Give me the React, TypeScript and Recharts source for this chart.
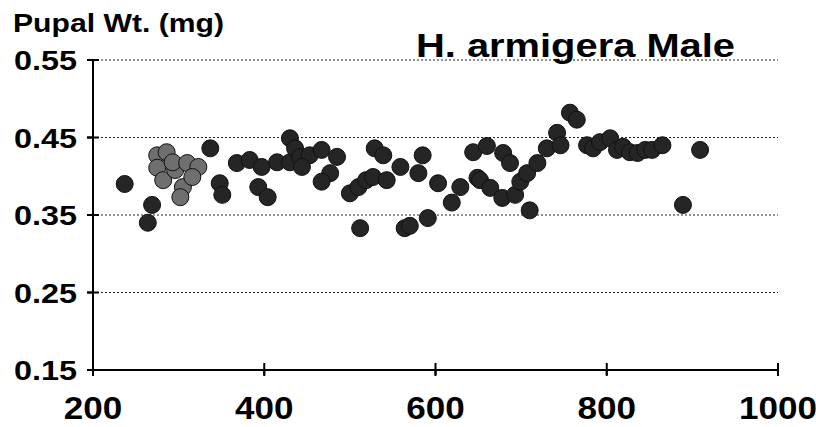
import React from "react";
import { CartesianGrid, Scatter, ScatterChart, XAxis, YAxis } from "recharts";

// light grey clump at the left end
const lightX = [275, 286, 275, 282, 296, 293, 310, 323, 305, 302, 316];
const lightY = [0.427, 0.431, 0.411, 0.395, 0.408, 0.418, 0.417, 0.412, 0.386, 0.373, 0.399];

// everything else
const darkX = [
  237, 264, 269, 337, 348, 351, 393, 404,
  368, 383, 397, 415, 430, 430, 436, 442, 453, 467, 444, 485, 477, 467,
  500, 510, 519, 527, 512, 529, 539, 543, 559, 564, 570, 580, 585, 591,
  603, 619, 629, 644, 649, 660, 652, 664, 678, 693, 679, 687, 699, 707,
  710, 719, 730, 742, 746, 757, 765,
  777, 784, 792, 804, 812, 819, 827, 836, 845, 853, 865, 889, 909,
];
const darkY = [
  0.39, 0.34, 0.363, 0.436, 0.391, 0.376, 0.386, 0.373,
  0.417, 0.421, 0.412, 0.418, 0.418, 0.449, 0.436, 0.425, 0.427, 0.434, 0.412, 0.425, 0.404, 0.393,
  0.378, 0.386, 0.395, 0.399, 0.333, 0.436, 0.427, 0.395, 0.412, 0.333, 0.336, 0.404, 0.427, 0.346,
  0.391, 0.366, 0.386, 0.431, 0.398, 0.439, 0.395, 0.385, 0.372, 0.376, 0.43, 0.417, 0.393, 0.404,
  0.356, 0.417, 0.436, 0.456, 0.44, 0.482, 0.473,
  0.44, 0.436, 0.444, 0.449, 0.434, 0.438, 0.431, 0.43, 0.434, 0.434, 0.44, 0.363, 0.434,
];

const xTicks = [200, 400, 600, 800, 1000];
const yTicks = [0.15, 0.25, 0.35, 0.45, 0.55];

const yLabel = "Pupal Wt. (mg)";
const title = "H. armigera Male";

const FONT = "'Liberation Sans', Arial, Helvetica, sans-serif";

const lightData = lightX.map((x, i) => ({ x, y: lightY[i] }));
const darkData = darkX.map((x, i) => ({ x, y: darkY[i] }));

const YTick = (props: any) => {
  const { x, y, payload } = props;
  return (
    <g>
      {/* inner half of the crossing tick */}
      <line x1={x + 10} x2={x + 22} y1={y} y2={y} stroke="#000" strokeWidth={2} />
      <text
        x={x}
        y={y}
        dy="0.36em"
        textAnchor="end"
        fontFamily={FONT}
        fontWeight="bold"
        fontSize={28}
        textLength={63}
        lengthAdjust="spacingAndGlyphs"
        fill="#000"
      >
        {payload.value.toFixed(2)}
      </text>
    </g>
  );
};

const XTick = (props: any) => {
  const { x, y, payload } = props;
  const label = String(payload.value);
  return (
    <g>
      <line x1={x} x2={x} y1={y - 22} y2={y - 34} stroke="#000" strokeWidth={2} />
      <text
        x={x}
        y={y}
        dy="0.72em"
        textAnchor="middle"
        fontFamily={FONT}
        fontWeight="bold"
        fontSize={31}
        textLength={label.length * 19.5}
        lengthAdjust="spacingAndGlyphs"
        fill="#000"
      >
        {label}
      </text>
    </g>
  );
};

const dot = (fill: string) => (p: any) =>
  <circle cx={p.cx} cy={p.cy} r={8.5} fill={fill} stroke="#111" strokeWidth={1} />;

export default function App() {
  return (
    <div style={{ position: "absolute", left: 0, top: 0, width: 816, height: 427, background: "#fff" }}>
      <ScatterChart width={816} height={427} margin={{ top: 60, right: 38, bottom: 0, left: 0 }}>
        <CartesianGrid horizontal vertical={false} stroke="#222" strokeDasharray="2 2" />
        <XAxis
          type="number"
          dataKey="x"
          domain={[200, 1000]}
          ticks={xTicks}
          height={57}
          tickSize={6}
          tickMargin={21}
          tickLine={{ stroke: "#000", strokeWidth: 2 }}
          axisLine={{ stroke: "#000", strokeWidth: 2 }}
          tick={<XTick />}
          interval={0}
        />
        <YAxis
          type="number"
          dataKey="y"
          domain={[0.15, 0.55]}
          ticks={yTicks}
          width={93}
          tickSize={6}
          tickMargin={10}
          tickLine={{ stroke: "#000", strokeWidth: 2 }}
          axisLine={{ stroke: "#000", strokeWidth: 2 }}
          tick={<YTick />}
          interval={0}
        />
        <Scatter data={lightData} shape={dot("#6f6f6f")} isAnimationActive={false} />
        <Scatter data={darkData} shape={dot("#252525")} isAnimationActive={false} />
      </ScatterChart>
      <svg width={816} height={427} style={{ position: "absolute", left: 0, top: 0, pointerEvents: "none" }}>
        <text x={13} y={32} fontFamily={FONT} fontWeight="bold" fontSize={26} textLength={211} lengthAdjust="spacingAndGlyphs">
          {yLabel}
        </text>
        <text x={416} y={57} fontFamily={FONT} fontWeight="bold" fontSize={33} textLength={319} lengthAdjust="spacingAndGlyphs">
          {title}
        </text>
      </svg>
    </div>
  );
}
